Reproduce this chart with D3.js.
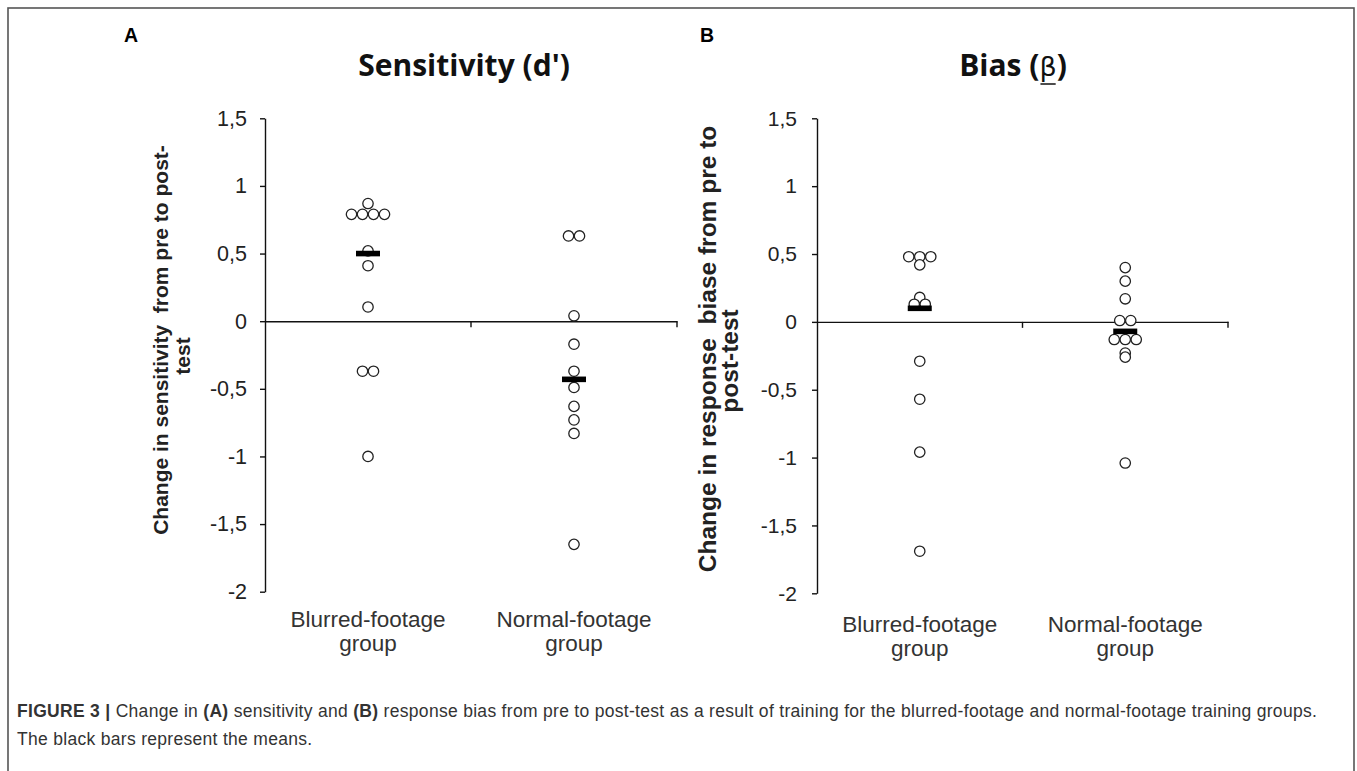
<!DOCTYPE html>
<html>
<head>
<meta charset="utf-8">
<script src="https://cdn.jsdelivr.net/npm/d3@7"></script>
<style>
  body { margin: 0; background: #fff; }
  svg { display: block; }
</style>
</head>
<body>
<svg id="fig" width="1357" height="771"></svg>
<script>
// ---- data ----
const groups = ["Blurred-footage", "Normal-footage"];
const groupSuffix = "group";
const tickValues = [1.5, 1, 0.5, 0, -0.5, -1, -1.5, -2];

// (A) change in sensitivity d'
const sensitivityBlurred = [0.87, 0.79, 0.79, 0.79, 0.79, 0.52, 0.41, 0.105, -0.37, -0.37, -1.0];
const sensitivityNormal  = [0.63, 0.63, 0.04, -0.17, -0.37, -0.49, -0.63, -0.73, -0.83, -1.65];
const sensitivityMeans   = [0.50, -0.43];

// (B) change in response bias beta
const biasBlurred = [0.48, 0.48, 0.48, 0.42, 0.18, 0.13, 0.13, -0.29, -0.57, -0.96, -1.69];
const biasNormal  = [0.40, 0.30, 0.17, 0.01, 0.01, -0.13, -0.13, -0.13, -0.23, -0.26, -1.04];
const biasMeans   = [0.10, -0.07];

// ---- drawing ----
const svg = d3.select("#fig");

// figure frame
svg.append("rect")
  .attr("x", 8).attr("y", 8)
  .attr("width", 1346).attr("height", 800)
  .attr("fill", "none").attr("stroke", "#555").attr("stroke-width", 1.6);

// side-by-side copies of equal values, centred on the group position
function swarm(values) {
  const counts = d3.rollup(values, v => v.length, d => d);
  const seen = new Map();
  return values.map(v => {
    const n = counts.get(v);
    const i = seen.get(v) || 0;
    seen.set(v, i + 1);
    return { value: v, slot: i - (n - 1) / 2 };
  });
}

function drawPanel(cfg) {
  const g = svg.append("g");
  const y = d3.scaleLinear().domain([1.5, -2]).range([cfg.yTop, cfg.yBottom]);
  const x = d3.scaleBand().domain(groups).range([cfg.xLeft, cfg.xRight]).padding(0);

  // y axis
  const yAxis = g.append("g")
    .attr("transform", `translate(${cfg.xLeft},0)`)
    .call(d3.axisLeft(y).tickValues(tickValues).tickSize(5).tickSizeOuter(0).tickPadding(cfg.tickPad)
      .tickFormat(d => String(d).replace(".", ",")));
  yAxis.select(".domain").attr("stroke", "#111").attr("stroke-width", 1.4);
  yAxis.selectAll(".tick line").attr("stroke", "#111").attr("stroke-width", 1.4);
  yAxis.selectAll(".tick text")
    .attr("font-family", "'Liberation Sans', Arial, sans-serif")
    .attr("font-size", cfg.tickFont).attr("fill", "#222");

  // x axis through zero with ticks at group boundaries
  const xAxis = g.append("g")
    .attr("transform", `translate(0,${y(0)})`)
    .call(d3.axisBottom(x).tickSize(0).tickSizeOuter(0).tickFormat(""));
  xAxis.select(".domain").attr("stroke", "#111").attr("stroke-width", 1.4);
  g.selectAll(".bound").data(groups).join("line")
    .attr("x1", d => x(d) + x.bandwidth()).attr("x2", d => x(d) + x.bandwidth())
    .attr("y1", y(0)).attr("y2", y(0) + 6)
    .attr("stroke", "#111").attr("stroke-width", 1.4);

  // individual points
  const spacing = 11;
  cfg.series.forEach((vals, gi) => {
    const cx0 = x(groups[gi]) + x.bandwidth() / 2;
    g.append("g").selectAll("circle").data(swarm(vals)).join("circle")
      .attr("cx", d => cx0 + d.slot * spacing)
      .attr("cy", d => y(d.value))
      .attr("r", 5.2)
      .attr("fill", "#fff").attr("stroke", "#222").attr("stroke-width", 1.3);
  });

  // group means
  g.selectAll(".mean").data(cfg.means).join("rect")
    .attr("x", (d, i) => x(groups[i]) + x.bandwidth() / 2 - 12)
    .attr("y", d => y(d) - 2.8)
    .attr("width", 24).attr("height", 5.6)
    .attr("fill", "#000");

  // category labels
  groups.forEach(name => {
    const t = g.append("text")
      .attr("x", x(name) + x.bandwidth() / 2)
      .attr("text-anchor", "middle")
      .attr("font-family", "'Liberation Sans', Arial, sans-serif")
      .attr("font-size", cfg.catFont).attr("fill", "#333");
    t.append("tspan").attr("x", x(name) + x.bandwidth() / 2).attr("y", cfg.catY1).text(name);
    t.append("tspan").attr("x", x(name) + x.bandwidth() / 2).attr("y", cfg.catY2).text(groupSuffix);
  });

  // y-axis title (two lines)
  cfg.yLabel.forEach(line => {
    g.append("text")
      .attr("transform", `translate(${line.x},${line.y}) rotate(-90)`)
      .attr("text-anchor", "middle")
      .attr("font-family", "'Liberation Sans', Arial, sans-serif")
      .attr("font-weight", "bold")
      .attr("font-size", cfg.yLabelFont).attr("fill", "#222")
      .style("white-space", "pre")
      .text(line.text);
  });

  // panel letter
  g.append("text")
    .attr("x", cfg.letterX).attr("y", 42)
    .attr("font-family", "'Liberation Sans', Arial, sans-serif")
    .attr("font-weight", "bold").attr("font-size", 19.5).attr("fill", "#000")
    .text(cfg.letter);

  // panel title
  const title = g.append("text")
    .attr("x", cfg.titleX).attr("y", 76)
    .attr("text-anchor", "middle")
    .attr("font-family", "'Open Sans', Lato, sans-serif")
    .attr("font-weight", "bold").attr("font-size", 30).attr("fill", "#111");
  cfg.title.forEach(part => {
    const ts = title.append("tspan").text(part.text);
    if (part.greek) ts.attr("font-family", "'DejaVu Sans', sans-serif").attr("font-weight", "normal").attr("font-size", 27);
  });
  // underline below the greek symbol
  cfg.title.forEach((part, pi) => {
    if (!part.greek) return;
    const offset = cfg.title.slice(0, pi).reduce((s, p) => s + p.text.length, 0);
    const ext = title.node().getExtentOfChar(offset);
    g.append("line")
      .attr("x1", ext.x + 1).attr("x2", ext.x + ext.width - 1)
      .attr("y1", 84).attr("y2", 84)
      .attr("stroke", "#111").attr("stroke-width", 1.5);
  });
}

drawPanel({
  letter: "A", letterX: 124,
  title: [{ text: "Sensitivity (d')" }], titleX: 464,
  xLeft: 265, xRight: 677, yTop: 118.3, yBottom: 591.7,
  tickFont: 21.5, tickPad: 13, catFont: 22.5, catY1: 627, catY2: 651,
  yLabelFont: 21,
  yLabel: [
    { text: "Change in sensitivity  from pre to post-", x: 168, y: 340 },
    { text: "test", x: 190, y: 356 }
  ],
  series: [sensitivityBlurred, sensitivityNormal],
  means: sensitivityMeans
});

drawPanel({
  letter: "B", letterX: 700,
  title: [{ text: "Bias (" }, { text: "β", greek: true }, { text: ")" }], titleX: 1013,
  xLeft: 817, xRight: 1228, yTop: 118.3, yBottom: 593.3,
  tickFont: 21, tickPad: 15, catFont: 22.5, catY1: 632, catY2: 656,
  yLabelFont: 24.5,
  yLabel: [
    { text: "Change in response  biase from pre to", x: 716, y: 349 },
    { text: "post-test", x: 738, y: 361 }
  ],
  series: [biasBlurred, biasNormal],
  means: biasMeans
});

// caption
const caption = svg.append("text")
  .attr("font-family", "'Liberation Sans', Arial, sans-serif")
  .attr("font-size", 17.5).attr("letter-spacing", 0.3).attr("fill", "#333");
const line1 = [
  { t: "FIGURE 3 |", b: true }, { t: " Change in " }, { t: "(A)", b: true },
  { t: " sensitivity and " }, { t: "(B)", b: true },
  { t: " response bias from pre to post-test as a result of training for the blurred-footage and normal-footage training groups." }
];
const l1 = caption.append("tspan").attr("x", 17).attr("y", 717);
line1.forEach((p, i) => {
  const ts = i === 0 ? l1.text(p.t) : caption.append("tspan").text(p.t);
  if (p.b) ts.attr("font-weight", "bold");
});
caption.append("tspan").attr("x", 17).attr("y", 745).text("The black bars represent the means.");
</script>
</body>
</html>
